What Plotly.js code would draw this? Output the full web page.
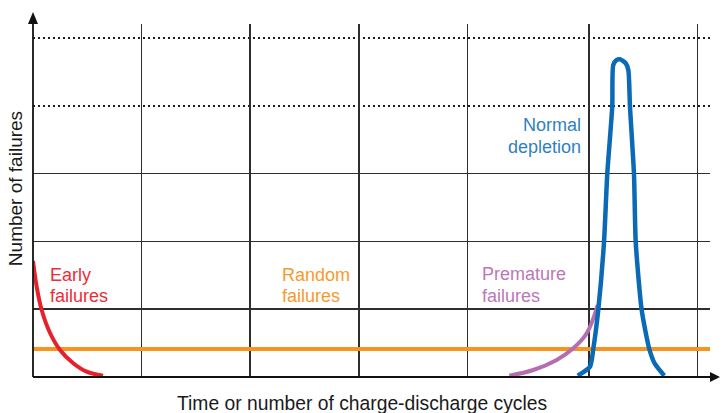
<!DOCTYPE html>
<html>
<head>
<meta charset="utf-8">
<script src="https://cdn.plot.ly/plotly-3.0.1.min.js"></script>
<style>html,body{margin:0;padding:0;background:#fff;}#chart{width:722px;height:413px;}</style>
</head>
<body>
<div id="chart"></div>
<script>
// Units: x = time (grid units), y = number of failures (grid units)
const gridX = [1, 2, 3, 4, 5.12, 6.12];
const gridYSolid = [1, 2, 3];
const gridYDotted = [4, 5];

const earlyX = [0, 0.034, 0.080, 0.157, 0.249, 0.368, 0.494, 0.645];
const earlyY = [1.711, 1.332, 0.988, 0.649, 0.398, 0.206, 0.078, 0.019];

const randomX = [0, 6.234];
const randomY = [0.413, 0.413];

const prematureX = [4.386, 4.607, 4.822, 4.975, 5.099, 5.200];
const prematureY = [0.019, 0.103, 0.251, 0.423, 0.645, 1.062];

const depletionX = [5.016, 5.129, 5.159, 5.205, 5.258, 5.288, 5.334, 5.343, 5.375, 5.405, 5.458, 5.482, 5.497, 5.534, 5.550, 5.605, 5.675, 5.727, 5.813];
const depletionY = [0.019, 0.152, 0.413, 0.988, 1.991, 2.994, 3.993, 4.60, 4.676, 4.686, 4.627, 4.528, 3.993, 2.994, 1.991, 0.988, 0.413, 0.192, 0.019];

const labelLines = [
  {lines: ['Early', 'failures'], x: 0.135, y: [1.504, 1.195], anchor: 'left', color: '#ec2d38'},
  {lines: ['Random', 'failures'], x: 2.273, y: [1.504, 1.195], anchor: 'left', color: '#f79a2e'},
  {lines: ['Premature', 'failures'], x: 4.114, y: [1.519, 1.195], anchor: 'left', color: '#bb78b8'},
  {lines: ['Normal', 'depletion'], x: 5.062, y: [3.717, 3.392], anchor: 'right', color: '#2f7fc2'}
];
const xTitle = 'Time or number of charge-discharge cycles';
const yTitle = 'Number of failures';

const FONT = '"Liberation Sans", Arial, Helvetica, sans-serif';
const gridColor = '#2e2e2e';

const traces = [
  {x: randomX, y: randomY, mode: 'lines', line: {color: '#f7941d', width: 4}, hoverinfo: 'skip'},
  {x: earlyX, y: earlyY, mode: 'lines', line: {color: '#e8202a', width: 4, shape: 'spline', smoothing: 1}, hoverinfo: 'skip'},
  {x: prematureX, y: prematureY, mode: 'lines', line: {color: '#b46db0', width: 4, shape: 'spline', smoothing: 1}, hoverinfo: 'skip'},
  {x: depletionX, y: depletionY, mode: 'lines', line: {color: '#0a6ab6', width: 4.5, shape: 'spline', smoothing: 0.6}, hoverinfo: 'skip'}
];

const annotations = [];
labelLines.forEach(l => {
  l.lines.forEach((t, i) => {
    annotations.push({x: l.x, y: l.y[i], xref: 'x', yref: 'y', text: t, showarrow: false,
      xanchor: l.anchor, yanchor: 'middle', font: {family: FONT, size: 18, color: l.color}});
  });
});
annotations.push({x: 0.486, y: -0.0737, xref: 'paper', yref: 'paper', text: xTitle, showarrow: false,
  xanchor: 'center', yanchor: 'middle', font: {family: FONT, size: 19.3, color: '#1a1a1a'}});
annotations.push({x: -0.0266, y: 0.535, xref: 'paper', yref: 'paper', text: yTitle, showarrow: false, textangle: -90,
  xanchor: 'center', yanchor: 'middle', font: {family: FONT, size: 19, color: '#1a1a1a'}});

const shapes = [
  // axis lines with arrows
  {type: 'line', xref: 'paper', yref: 'paper', x0: 0, x1: 0, y0: 0, y1: 1.02, line: {color: '#111', width: 1.8}},
  {type: 'line', xref: 'paper', yref: 'paper', x0: 0, x1: 1.006, y0: 0, y1: 0, line: {color: '#111', width: 1.8}},
  {type: 'path', xref: 'paper', yref: 'paper', path: 'M -0.0074 1.0 L 0 1.034 L 0.0074 1.0 Z', fillcolor: '#111', line: {width: 0}},
  {type: 'path', xref: 'paper', yref: 'paper', path: 'M 1.0 -0.0142 L 1.0148 0 L 1.0 0.0142 Z', fillcolor: '#111', line: {width: 0}}
];

const layout = {
  width: 722, height: 413,
  margin: {l: 33, r: 12, t: 24, b: 36},
  paper_bgcolor: '#fff', plot_bgcolor: '#fff',
  showlegend: false,
  xaxis: {range: [0, 6.234], tickmode: 'array', tickvals: gridX, showticklabels: false, ticks: '',
    showgrid: true, gridcolor: gridColor, gridwidth: 1.7, zeroline: false, showline: false, fixedrange: true},
  yaxis: {range: [0, 5.206], tickmode: 'array', tickvals: gridYSolid, showticklabels: false, ticks: '',
    showgrid: true, gridcolor: gridColor, gridwidth: 1.7, zeroline: false, showline: false, fixedrange: true,
    minor: {tickmode: 'array', tickvals: gridYDotted, showgrid: true, gridcolor: '#1e1e1e', gridwidth: 1.7, griddash: '2px,3px', ticks: ''}},
  annotations: annotations,
  shapes: shapes
};

Plotly.newPlot('chart', traces, layout, {staticPlot: true, displayModeBar: false});
</script>
</body>
</html>
